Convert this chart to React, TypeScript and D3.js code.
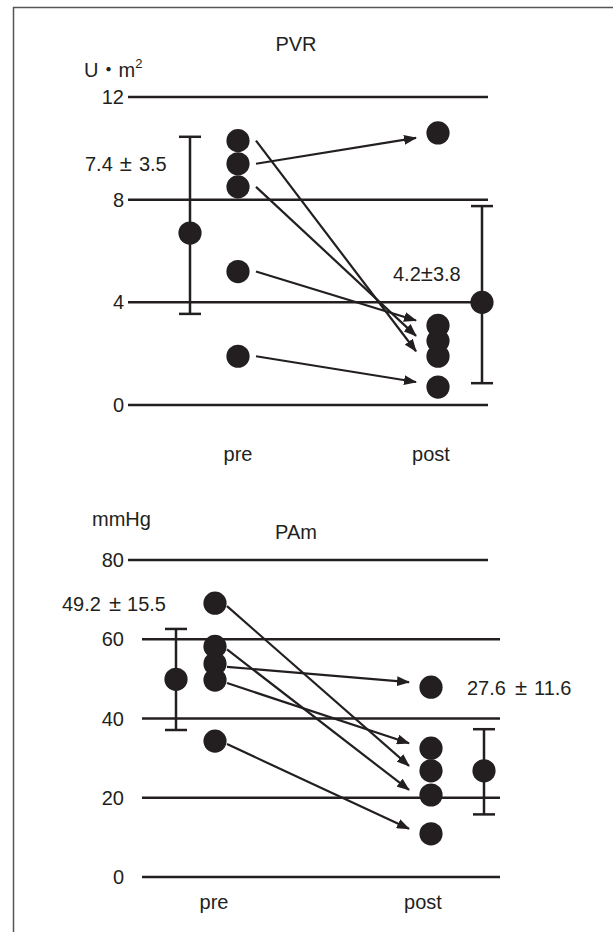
import React from "react";
import * as d3 from "d3";

const W = 613;
const H = 932;
const INK = "#231f20";
const FONT = "'Liberation Sans', Arial, Helvetica, sans-serif";

const groups = ["pre", "post"];

// PVR, U・m2 (pre[i] -> post[i])
const pvrTicks = [0, 4, 8, 12];
const pvrPre = [10.3, 9.4, 8.5, 5.2, 1.9];
const pvrPost = [1.9, 10.6, 2.5, 3.1, 0.7];
const pvrMean = [6.7, 4.0];
const pvrLow = [3.55, 0.85];
const pvrHigh = [10.45, 7.75];
const pvrLabels = [["7.4", "3.5"], ["4.2", "3.8"]];

// PAm, mmHg
const pamTicks = [0, 20, 40, 60, 80];
const pamPre = [69.1, 58.2, 53.8, 49.7, 34.3];
const pamPost = [26.8, 20.7, 47.9, 32.5, 10.9];
const pamMean = [49.9, 26.8];
const pamLow = [37.1, 15.8];
const pamHigh = [62.6, 37.3];
const pamLabels = [["49.2", "15.5"], ["27.6", "11.6"]];

type PanelProps = {
  title: string;
  unit: React.ReactNode;
  ticks: number[];
  pre: number[];
  post: number[];
  mean: number[];
  low: number[];
  high: number[];
  labels: string[][];
  y: d3.ScaleLinear<number, number>;
  x: d3.ScalePoint<string>;
  grid: (t: number) => [number, number];
  meanOffset: number[];
  startGap: number;
  startDy: number;
  endGap: number;
  labelPos: { x: number; y: number; dx1: number; dx2: number }[];
  catPos: { x: number; y: number }[];
  titlePos: { x: number; y: number };
};

const R = 11.6;

function Panel(p: PanelProps) {
  const xPre = p.x("pre")!;
  const xPost = p.x("post")!;
  return (
    <g>
      <text x={p.titlePos.x} y={p.titlePos.y} textAnchor="middle" fontSize={20}>
        {p.title}
      </text>
      {p.unit}
      {p.ticks.map((t) => {
        const [x0, x1] = p.grid(t);
        return (
          <g key={t}>
            <line x1={x0} x2={x1} y1={p.y(t)} y2={p.y(t)} stroke={INK} strokeWidth={2.5} />
            <text x={124} y={p.y(t)} dy="0.35em" textAnchor="end" fontSize={20}>
              {t}
            </text>
          </g>
        );
      })}
      {/* mean ± SD */}
      {groups.map((g, i) => {
        const cx = p.x(g)! + p.meanOffset[i];
        return (
          <g key={g}>
            <line x1={cx} x2={cx} y1={p.y(p.low[i])} y2={p.y(p.high[i])} stroke={INK} strokeWidth={2.5} />
            <line x1={cx - 11} x2={cx + 11} y1={p.y(p.low[i])} y2={p.y(p.low[i])} stroke={INK} strokeWidth={2.5} />
            <line x1={cx - 11} x2={cx + 11} y1={p.y(p.high[i])} y2={p.y(p.high[i])} stroke={INK} strokeWidth={2.5} />
            <circle cx={cx} cy={p.y(p.mean[i])} r={R} fill={INK} />
          </g>
        );
      })}
      {/* individual points */}
      {p.pre.map((v, i) => (
        <circle key={"a" + i} cx={xPre} cy={p.y(v)} r={R} fill={INK} />
      ))}
      {p.post.map((v, i) => (
        <circle key={"b" + i} cx={xPost} cy={p.y(v)} r={R} fill={INK} />
      ))}
      {p.pre.map((v, i) => {
        const y0 = p.y(v) + p.startDy;
        const y1 = p.y(p.post[i]);
        const s = Math.sign(y1 - y0);
        return (
          <line
            key={"l" + i}
            x1={xPre + p.startGap}
            y1={y0}
            x2={xPost - p.endGap}
            y2={y1 - 5 * s}
            stroke={INK}
            strokeWidth={2.2}
            markerEnd="url(#ah)"
          />
        );
      })}
      {p.labels.map((l, i) => {
        const lp = p.labelPos[i];
        return (
          <text key={"t" + i} x={lp.x} y={lp.y} fontSize={20}>
            {l[0]}
            <tspan dx={lp.dx1} fontSize={22}>±</tspan>
            <tspan dx={lp.dx2}>{l[1]}</tspan>
          </text>
        );
      })}
      {groups.map((g, i) => (
        <text key={"c" + g} x={p.catPos[i].x} y={p.catPos[i].y} textAnchor="middle" fontSize={20}>
          {g}
        </text>
      ))}
    </g>
  );
}

export default function App() {
  const yTop = d3.scaleLinear().domain([0, 12]).range([405, 97]);
  const xTop = d3.scalePoint<string>().domain(groups).range([238, 438]);
  const yBot = d3.scaleLinear().domain([0, 80]).range([877, 560]);
  const xBot = d3.scalePoint<string>().domain(groups).range([215, 431]);

  return (
    <svg
      width={W}
      height={H}
      style={{ position: "absolute", left: 0, top: 0, background: "#fff" }}
      fontFamily={FONT}
      fill={INK}
    >
      <defs>
        <marker
          id="ah"
          viewBox="0 0 13 10"
          refX={12}
          refY={5}
          markerWidth={13}
          markerHeight={10}
          markerUnits="userSpaceOnUse"
          orient="auto"
        >
          <path d="M0,0 L13,5 L0,10 z" fill={INK} />
        </marker>
      </defs>
      <rect width={W} height={H} fill="#fff" />
      {/* frame */}
      <line x1={13} x2={W} y1={7.5} y2={7.5} stroke="#555" strokeWidth={1.5} />
      <line x1={13.5} x2={13.5} y1={7} y2={H} stroke="#555" strokeWidth={1.5} />

      <Panel
        title="PVR"
        unit={
          <text x={84} y={77} fontSize={20}>
            U<tspan fontFamily="'Noto Sans CJK JP', sans-serif">・</tspan>m
            <tspan dy={-9} fontSize={13}>2</tspan>
          </text>
        }
        ticks={pvrTicks}
        pre={pvrPre}
        post={pvrPost}
        mean={pvrMean}
        low={pvrLow}
        high={pvrHigh}
        labels={pvrLabels}
        y={yTop}
        x={xTop}
        grid={() => [128, 488]}
        meanOffset={[-48, 44]}
        startGap={18}
        startDy={0}
        endGap={22}
        labelPos={[
          { x: 85, y: 171, dx1: 7, dx2: 7 },
          { x: 393, y: 281, dx1: 0, dx2: 0 },
        ]}
        catPos={[
          { x: 238, y: 461 },
          { x: 431, y: 461 },
        ]}
        titlePos={{ x: 296, y: 51 }}
      />
      <Panel
        title="PAm"
        unit={
          <text x={92} y={526} fontSize={20}>
            mmHg
          </text>
        }
        ticks={pamTicks}
        pre={pamPre}
        post={pamPost}
        mean={pamMean}
        low={pamLow}
        high={pamHigh}
        labels={pamLabels}
        y={yBot}
        x={xBot}
        grid={(t) => (t === 80 ? [128, 488] : [142, 500])}
        meanOffset={[-39, 53]}
        startGap={12}
        startDy={3}
        endGap={22}
        labelPos={[
          { x: 62, y: 611, dx1: 8, dx2: 6 },
          { x: 467, y: 695, dx1: 9, dx2: 7 },
        ]}
        catPos={[
          { x: 214, y: 909 },
          { x: 423, y: 909 },
        ]}
        titlePos={{ x: 296, y: 539 }}
      />
    </svg>
  );
}
